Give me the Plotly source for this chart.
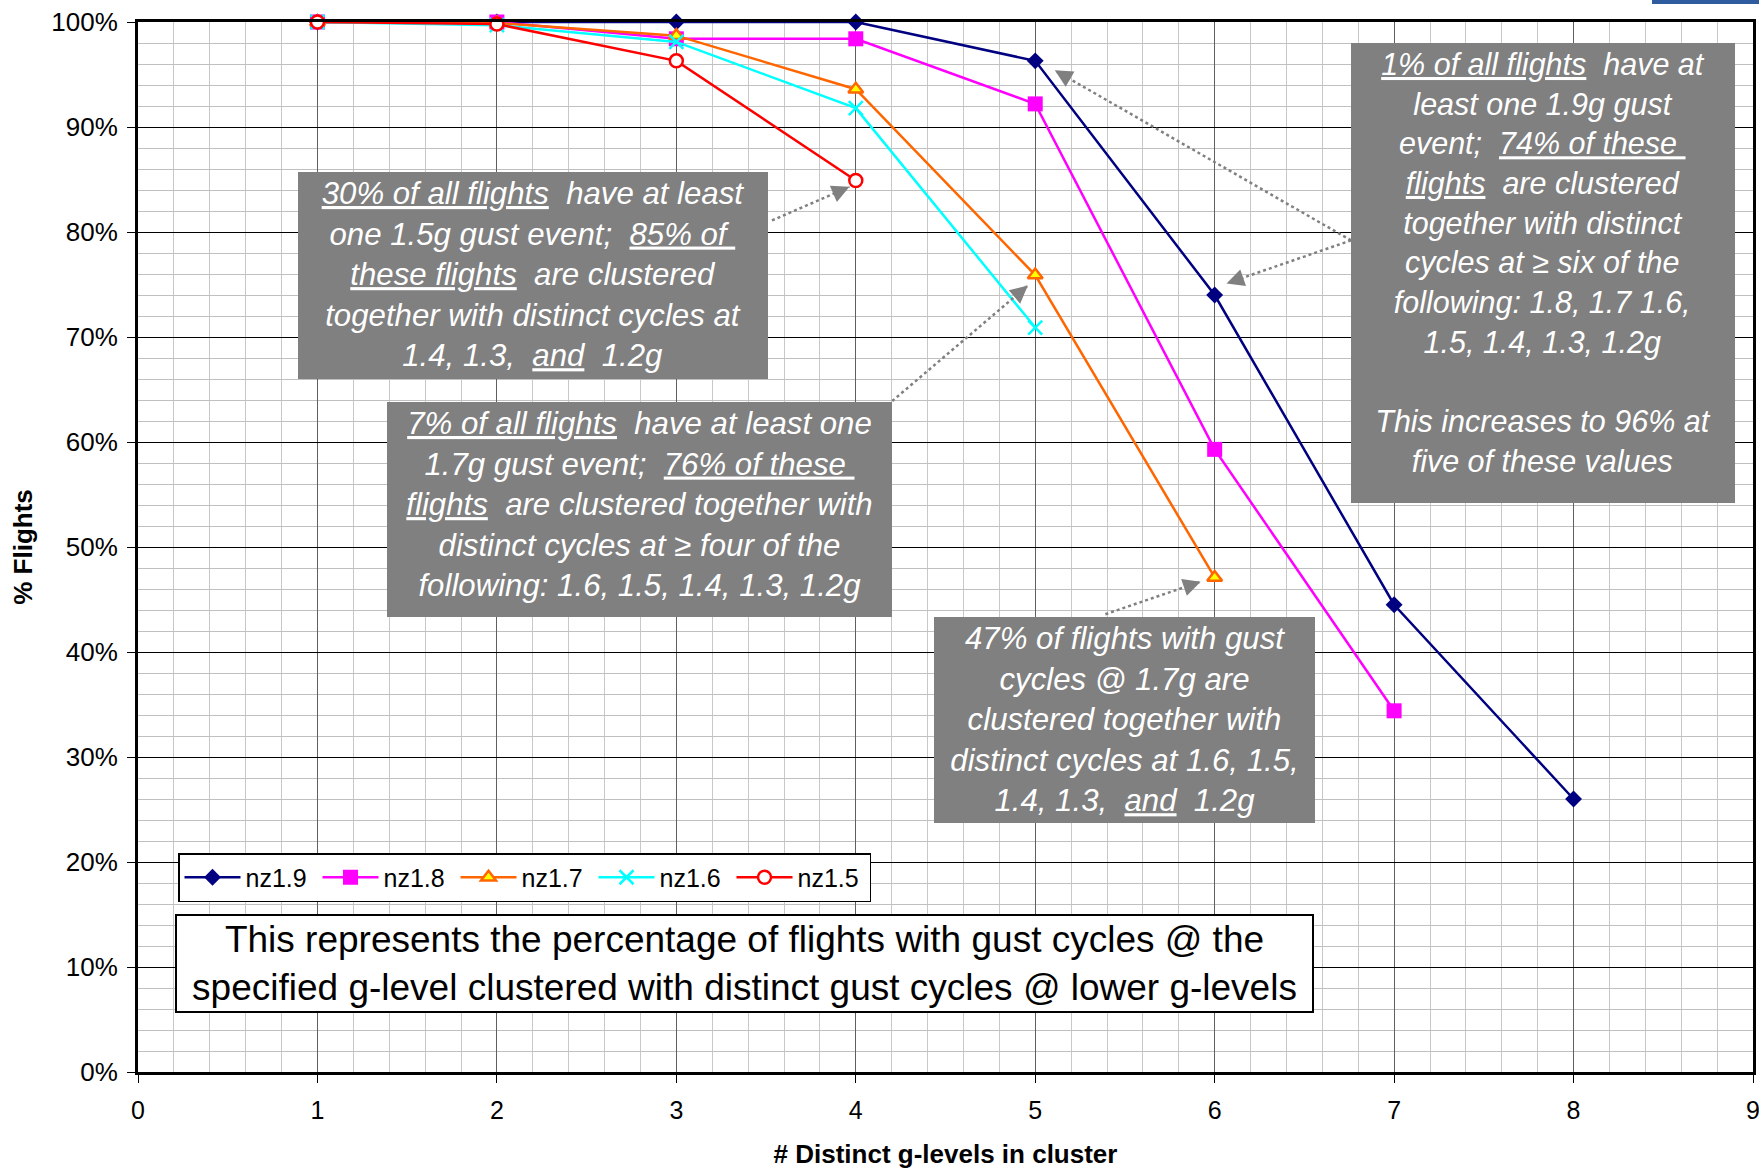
import plotly.graph_objects as go

# Share of flights (%) vs number of distinct g-levels in a gust cluster
levels = [1, 2, 3, 4, 5, 6, 7, 8]
nz19 = [100.0, 100.0, 100.0, 100.0, 96.3, 74.0, 44.5, 26.0]
nz18 = [100.0, 100.0, 98.4, 98.4, 92.2, 59.3, 34.4]
nz17 = [100.0, 99.9, 98.7, 93.6, 75.9, 47.1]
nz16 = [100.0, 99.7, 98.1, 91.8, 70.9]
nz15 = [100.0, 99.8, 96.3, 84.9]

series_names = ["nz1.9", "nz1.8", "nz1.7", "nz1.6", "nz1.5"]
series_values = [nz19, nz18, nz17, nz16, nz15]

W, H = 1759, 1171
ML, MR, MT, MB = 138, 6, 22, 99
FONT = "Liberation Sans, Arial, sans-serif"

styles = {
    "nz1.9": dict(line=dict(color="#000080", width=2.5),
                  marker=dict(symbol="diamond", size=13, color="#000080")),
    "nz1.8": dict(line=dict(color="#FF00FF", width=2.5),
                  marker=dict(symbol="square", size=15, color="#FF00FF")),
    "nz1.7": dict(line=dict(color="#FF6600", width=2.5),
                  marker=dict(symbol="triangle-up", size=13, color="#FFFF00",
                              line=dict(color="#FF6600", width=2.5))),
    "nz1.6": dict(line=dict(color="#00FFFF", width=2.5),
                  marker=dict(symbol="x-thin", size=14, color="#00FFFF",
                              line=dict(color="#00FFFF", width=2.5))),
    "nz1.5": dict(line=dict(color="#FF0000", width=2.5),
                  marker=dict(symbol="circle", size=13, color="#FFFFFF",
                              line=dict(color="#FF0000", width=2.5))),
}

fig = go.Figure()
for name, vals in zip(series_names, series_values):
    fig.add_trace(go.Scatter(
        x=levels[:len(vals)], y=vals, name=name, mode="lines+markers",
        cliponaxis=False, **styles[name]))

# pixel scale of the plot area, used to aim the short arrowheads
plot_w = W - ML - MR
plot_h = H - MT - MB
px_per_x = plot_w / 9.0
px_per_y = plot_h / 100.0


def pointer(x0, y0, x1, y1, head=14):
    """Dotted leader line from (x0, y0) to (x1, y1) with a solid head at the tip."""
    fig.add_shape(type="line", x0=x0, y0=y0, x1=x1, y1=y1, xref="x", yref="y",
                  line=dict(color="#808080", width=2.5, dash="dot"))
    dx = (x0 - x1) * px_per_x
    dy = -(y0 - y1) * px_per_y
    n = (dx * dx + dy * dy) ** 0.5
    fig.add_annotation(x=x1, y=y1, xref="x", yref="y", text="",
                       ax=dx / n * head, ay=dy / n * head, axref="pixel", ayref="pixel",
                       showarrow=True, arrowhead=2, arrowsize=1.6, arrowwidth=2.2,
                       arrowcolor="#808080")


pointer(3.533, 81.1, 3.965, 84.3)
pointer(4.203, 63.9, 4.959, 74.9)
pointer(5.391, 43.6, 5.922, 46.7)
pointer(6.760, 79.2, 5.109, 95.4)
pointer(6.760, 79.2, 6.066, 75.1)

NB = "&nbsp;"
PAD = 4


def note(text, cx, cy, w, h, size=31.2):
    fig.add_annotation(
        x=(cx - ML) / plot_w, y=(H - MB - cy) / plot_h, xref="paper", yref="paper",
        xanchor="center", yanchor="middle", text=text, showarrow=False,
        width=w - 2 * PAD, height=h - 2 * PAD, align="center", valign="top",
        bgcolor="#808080", borderpad=PAD, borderwidth=0,
        font=dict(family=FONT, size=size, color="#FFFFFF", style="italic"))


note("<u>30% of all flights</u>" + NB + " have at least<br>"
     "one 1.5g gust event;" + NB + " <u>85% of" + NB + "</u><br>"
     "<u>these flights</u>" + NB + " are clustered<br>"
     "together with distinct cycles at<br>"
     "1.4, 1.3," + NB + " <u>and</u>" + NB + " 1.2g",
     533, 275.5, 470, 207)

note("<u>7% of all flights</u>" + NB + " have at least one<br>"
     "1.7g gust event;" + NB + " <u>76% of these" + NB + "</u><br>"
     "<u>flights</u>" + NB + " are clustered together with<br>"
     "distinct cycles at ≥ four of the<br>"
     "following: 1.6, 1.5, 1.4, 1.3, 1.2g",
     639.5, 509.5, 505, 215)

note("47% of flights with gust<br>"
     "cycles @ 1.7g are<br>"
     "clustered together with<br>"
     "distinct cycles at 1.6, 1.5,<br>"
     "1.4, 1.3," + NB + " <u>and</u>" + NB + " 1.2g",
     1124.5, 720, 381, 206)

note("<u>1% of all flights</u>" + NB + " have at<br>"
     "least one 1.9g gust<br>"
     "event;" + NB + " <u>74% of these" + NB + "</u><br>"
     "<u>flights</u>" + NB + " are clustered<br>"
     "together with distinct<br>"
     "cycles at ≥ six of the<br>"
     "following: 1.8, 1.7 1.6,<br>"
     "1.5, 1.4, 1.3, 1.2g<br>"
     " <br>"
     "This increases to 96% at<br>"
     "five of these values",
     1543, 273, 384, 460, 30.5)

# explanatory caption box
fig.add_annotation(
    x=(744.5 - ML) / plot_w, y=(H - MB - 963.5) / plot_h, xref="paper", yref="paper",
    xanchor="center", yanchor="middle", showarrow=False,
    text="This represents the percentage of flights with gust cycles @ the<br>"
         "specified g-level clustered with distinct gust cycles @ lower g-levels",
    width=1135, height=95, align="center", valign="middle",
    bgcolor="#FFFFFF", bordercolor="#000000", borderwidth=2, borderpad=0,
    font=dict(family=FONT, size=37, color="#000000"))

# corner logo fragment
fig.add_shape(type="rect", xref="paper", yref="paper",
              x0=(1652 - ML) / plot_w, x1=(W - ML) / plot_w,
              y0=(H - MB - 4) / plot_h, y1=(H - MB) / plot_h,
              line=dict(width=0), fillcolor="#2E5C9E", layer="above")

fig.update_layout(
    width=W, height=H,
    margin=dict(l=ML, r=MR, t=MT, b=MB, pad=0, autoexpand=False),
    paper_bgcolor="#FFFFFF", plot_bgcolor="#FFFFFF",
    font=dict(family=FONT, color="#000000"),
    showlegend=True,
    legend=dict(orientation="h", x=(178 - ML) / plot_w, y=(H - MB - 853) / plot_h,
                xanchor="left", yanchor="top", bgcolor="#FFFFFF",
                bordercolor="#000000", borderwidth=1.5,
                font=dict(family=FONT, size=25, color="#000000"),
                itemwidth=56, entrywidth=67, tracegroupgap=0),
)

fig.update_xaxes(
    range=[0, 9], dtick=1, tick0=0, showgrid=True, gridcolor="#606060", gridwidth=1,
    automargin=False, ticklabeloverflow="allow",
    zeroline=False, showline=True, linecolor="#000000", linewidth=3, mirror=True,
    ticks="outside", ticklen=8, tickcolor="#000000", tickwidth=1,
    tickfont=dict(family=FONT, size=25, color="#000000"), ticklabelstandoff=6,
    minor=dict(dtick=0.2, showgrid=True, gridcolor="#C8C8C8", gridwidth=1),
    title=dict(text="<b># Distinct g-levels in cluster</b>", standoff=22,
               font=dict(family=FONT, size=26, color="#000000")),
)
fig.update_yaxes(
    range=[0, 100], dtick=10, tick0=0, ticksuffix="%", showgrid=True,
    gridcolor="#000000", gridwidth=1, automargin=False,
    zeroline=False, showline=True, linecolor="#000000", linewidth=3, mirror=True,
    ticks="outside", ticklen=8, tickcolor="#000000", tickwidth=1,
    tickfont=dict(family=FONT, size=26, color="#000000"), ticklabelstandoff=4,
    minor=dict(dtick=2, showgrid=True, gridcolor="#C0C0C0", gridwidth=1),
    title=dict(text="<b>% Flights</b>", standoff=12,
               font=dict(family=FONT, size=26, color="#000000")),
)

fig.write_html("out.html")
